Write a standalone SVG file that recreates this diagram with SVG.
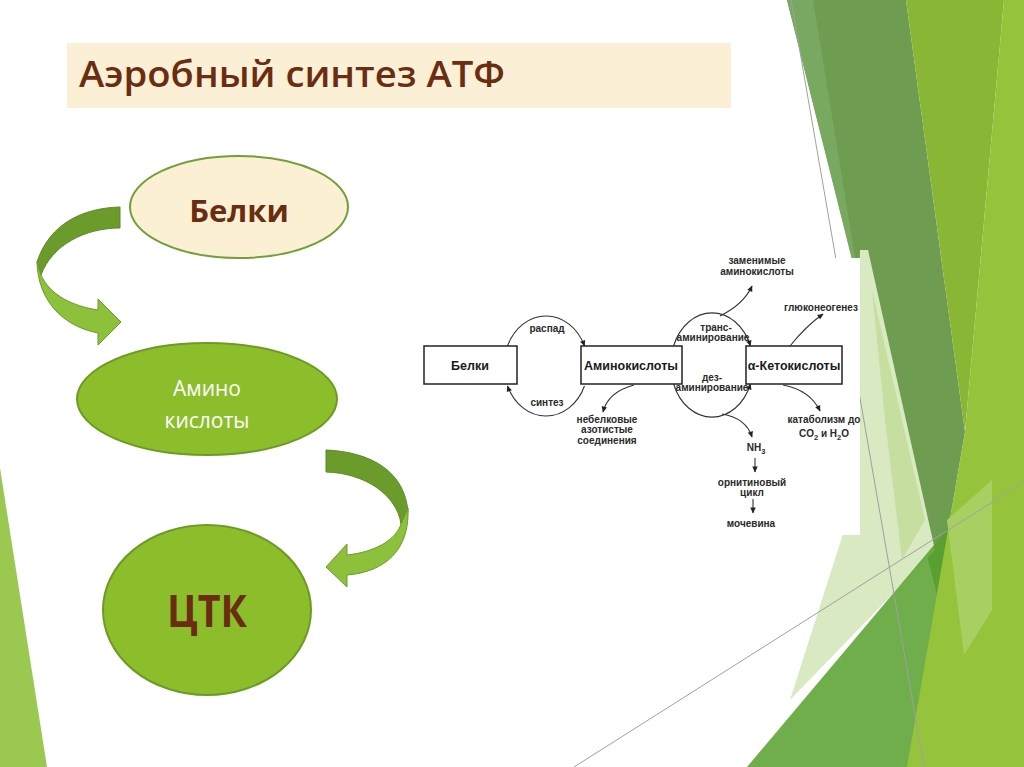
<svg xmlns="http://www.w3.org/2000/svg" width="1024" height="767" viewBox="0 0 1024 767">
<defs>
<style>
.bg{stroke:none}
.gl{stroke:#a0a0a0;stroke-width:1;fill:none}
.sbox{fill:#fff;stroke:#222;stroke-width:1.5}
.sl{fill:none;stroke:#333;stroke-width:1.1}
.st{font-family:"Liberation Sans",Arial,sans-serif;font-size:10px;font-weight:700;fill:#2a2a2a;text-anchor:middle}
.sb{font-family:"Liberation Sans",Arial,sans-serif;font-size:12.5px;font-weight:700;fill:#1a1a1a;text-anchor:middle}
.node-text{font-family:"Open Sans","Noto Sans",sans-serif;text-anchor:middle}
.arrD{fill:#6b9b2b;stroke:#5d8a24;stroke-width:1}
.arrL{fill:#8dc03b;stroke:#6c9a28;stroke-width:1}
</style>
<marker id="ah" viewBox="0 0 10 10" refX="9" refY="5" markerWidth="7" markerHeight="6" markerUnits="userSpaceOnUse" orient="auto">
<path d="M0,0.5 L10,5 L0,9.5 Z" fill="#222"/>
</marker>
</defs>

<rect width="1024" height="767" fill="#ffffff"/>

<g id="background">
<polygon class="bg" points="787,0 906,0 965,432 937,595" fill="#6e9d52"/>
<polygon class="bg" points="787,0 813,0 862,300" fill="#79a960"/>
<polygon class="bg" points="906,0 1004,0 965,432" fill="#89b634"/>
<polygon class="bg" points="860,250 868,250 935,550 790,700 842,537 855,480" fill="#d9e9c1"/>
<polygon class="bg" points="872,290 925,520 902,560 885,420" fill="#c6de9f"/>
<polygon class="bg" points="747,767 955,520 1024,438 1024,767" fill="#56a02c" fill-opacity="0.85"/>
<polygon class="bg" points="1004,0 1024,0 1024,767 907,767 965,432" fill="#95c43c"/>
<polygon class="bg" points="947,520 992,480 992,610 964,655" fill="#a8cf62"/>
<polygon class="bg" points="0,468 47,767 0,767" fill="#9bc851"/>
<line class="gl" x1="791" y1="0" x2="924" y2="767"/>
<line class="gl" x1="574" y1="767" x2="1024" y2="482"/>
</g>

<g id="scheme">
<rect x="420" y="258" width="440" height="277" fill="#ffffff"/>
<g id="scheme-connectors">
<path class="sl" d="M507.5,346 A42 50 0 0 1 584.5,346" marker-end="url(#ah)"/>
<path class="sl" d="M584.5,386 A42 50 0 0 1 507.5,386" marker-end="url(#ah)"/>
<path class="sl" d="M673.6,346 A41 51 0 0 1 750.4,346" marker-end="url(#ah)"/>
<path class="sl" d="M673.6,384 A41 51 0 0 0 750.4,384" marker-end="url(#ah)"/>
<path class="sl" d="M720,316 Q744,304 752,286" marker-end="url(#ah)"/>
<path class="sl" d="M790,346 Q806,326 823,314" marker-end="url(#ah)"/>
<path class="sl" d="M783,385 Q810,390 820,411" marker-end="url(#ah)"/>
<path class="sl" d="M722,414 Q746,418 752,437" marker-end="url(#ah)"/>
<path class="sl" d="M634,385 Q608,392 603,412" marker-end="url(#ah)"/>
<path class="sl" d="M755,458 L755,472" marker-end="url(#ah)"/>
<path class="sl" d="M753,499 L753,513" marker-end="url(#ah)"/>
</g>
<g id="s-belki"><rect class="sbox" x="424" y="346" width="93" height="38"/><text class="sb" x="470" y="370">Белки</text></g>
<g id="s-amino"><rect class="sbox" x="581" y="346" width="101" height="38"/><text class="sb" x="631" y="370">Аминокислоты</text></g>
<g id="s-keto"><rect class="sbox" x="746" y="346" width="96" height="38"/><text class="sb" x="794" y="370" font-weight="400">α-Кетокислоты</text></g>
<text class="st" x="547" y="332">распад</text>
<text class="st" x="547" y="406">синтез</text>
<text class="st" x="757" y="264">заменимые</text>
<text class="st" x="757" y="275">аминокислоты</text>
<text class="st" x="821" y="311">глюконеогенез</text>
<text class="st" x="716" y="331">транс-</text>
<text class="st" x="713" y="341">аминирование</text>
<text class="st" x="712" y="381">дез-</text>
<text class="st" x="712" y="391">аминирование</text>
<text class="st" x="607" y="423">небелковые</text>
<text class="st" x="607" y="433">азотистые</text>
<text class="st" x="607" y="444">соединения</text>
<text class="st" x="824" y="423">катаболизм до</text>
<text class="st" x="824" y="437">CO<tspan font-size="7.5" dy="3">2</tspan><tspan dy="-3"> и H</tspan><tspan font-size="7.5" dy="3">2</tspan><tspan dy="-3">O</tspan></text>
<text class="st" x="756" y="451" font-weight="400">NH<tspan font-size="7.5" dy="3">3</tspan></text>
<text class="st" x="752" y="486">орнитиновый</text>
<text class="st" x="752" y="496">цикл</text>
<text class="st" x="751" y="527">мочевина</text>
</g>

<g id="title">
<rect x="67" y="43" width="664" height="65" fill="#fbf0d5"/>
<text x="79" y="87" font-family="'Open Sans','Noto Sans',sans-serif" font-size="36.5" font-weight="600" fill="#6b2d12" textLength="426" lengthAdjust="spacingAndGlyphs">Аэробный синтез АТФ</text>
</g>

<g id="connectors">
<path class="arrD" d="M120,207 C85,208 50,222 37,262 L41,275 C52,245 85,228 120,228 Z"/>
<path class="arrL" d="M37,262 C38,300 62,326 98,333 L98,345 L121,322 L98,299 L98,310 C72,306 50,295 41,275 Z"/>
<path class="arrD" d="M326,450 C372,452 405,472 408,512 L401,524 C397,495 365,473 326,472 Z"/>
<path class="arrL" d="M408,508 C410,550 385,572 347,575 L347,587 L326,567 L347,544 L347,555 C375,552 396,540 401,524 Z"/>
</g>

<g id="node-belki">
<ellipse cx="239" cy="207" rx="109" ry="51" fill="#fcf0d4" stroke="#72a038" stroke-width="2"/>
<text class="node-text" x="239" y="222" font-size="31" font-weight="700" fill="#6b2d12">Белки</text>
</g>
<g id="node-amino">
<ellipse cx="207" cy="399" rx="130" ry="56" fill="#8cbe2c" stroke="#6e9a24" stroke-width="2"/>
<text class="node-text" x="207" y="396" font-size="21" fill="#ffffff">Амино</text>
<text class="node-text" x="207" y="428" font-size="21" fill="#ffffff">кислоты</text>
</g>
<g id="node-ctk">
<ellipse cx="207" cy="610" rx="104" ry="85" fill="#8cbe2c" stroke="#6e9a24" stroke-width="2"/>
<text class="node-text" x="207" y="627" font-size="44" font-weight="700" fill="#6b2d12" textLength="80" lengthAdjust="spacingAndGlyphs">ЦТК</text>
</g>
</svg>
